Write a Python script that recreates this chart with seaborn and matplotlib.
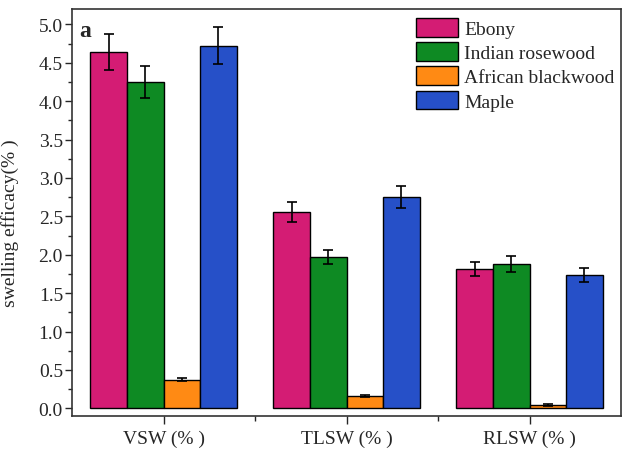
import pandas as pd
import matplotlib.pyplot as plt
import seaborn as sns
from matplotlib.ticker import MultipleLocator, FixedLocator

# Data
categories = ['VSW (% )', 'TLSW (% )', 'RLSW (% )']
species = ['Ebony', 'Indian rosewood', 'African blackwood', 'Maple']
ebony = [4.64, 2.56, 1.81]
rosewood = [4.25, 1.97, 1.88]
blackwood = [0.37, 0.16, 0.04]
maple = [4.72, 2.75, 1.74]
ebony_err = [0.23, 0.13, 0.09]
rosewood_err = [0.21, 0.09, 0.10]
blackwood_err = [0.02, 0.01, 0.01]
maple_err = [0.24, 0.14, 0.09]

colors = ['#D41C74', '#0E8A23', '#FF8A14', '#2650C8']

values = [ebony, rosewood, blackwood, maple]
errors = [ebony_err, rosewood_err, blackwood_err, maple_err]
rows = []
for sp, vals, errs in zip(species, values, errors):
    for cat, v, e in zip(categories, vals, errs):
        rows.append({'category': cat, 'species': sp, 'value': v, 'err': e})
df = pd.DataFrame(rows)

sns.set_style('ticks')
plt.rcParams['font.family'] = ['Liberation Serif', 'DejaVu Serif']

fig = plt.figure(figsize=(6.22, 4.52), dpi=100)
ax = fig.add_axes([0.1158, 0.0774, 0.8826, 0.9005])

sns.barplot(data=df, x='category', y='value', hue='species', order=categories,
            hue_order=species, palette=colors, edgecolor='black', linewidth=1.0,
            saturation=1, width=0.8, errorbar=None, ax=ax)

# error bars at bar centers
for container, sp in zip(ax.containers, species):
    sub = df[df['species'] == sp].set_index('category').loc[categories]
    xs = [p.get_x() + p.get_width() / 2 for p in container.patches]
    ax.errorbar(xs, sub['value'], yerr=sub['err'], fmt='none', ecolor='black',
                elinewidth=1.2, capsize=3.5, capthick=1.2)

ax.set_xlim(-0.5, 2.5)
ax.set_ylim(-0.1, 5.2)
ax.yaxis.set_major_locator(MultipleLocator(0.5))
ax.yaxis.set_minor_locator(MultipleLocator(0.25))
ax.yaxis.set_major_formatter(plt.FormatStrFormatter('%.1f'))
ax.xaxis.set_minor_locator(FixedLocator([0.5, 1.5]))
ax.tick_params(axis='y', which='major', length=5, width=1, labelsize=14, direction='out', pad=1.5)
ax.tick_params(axis='y', which='minor', length=3, width=1, direction='out')
ax.tick_params(axis='x', which='major', length=6, width=1, labelsize=14, direction='out', pad=4)
ax.tick_params(axis='x', which='minor', length=3.5, width=1, direction='out')
for s in ax.spines.values():
    s.set_linewidth(1.2)
    s.set_color('#333333')

ax.set_xlabel('')
ax.set_ylabel('swelling efficacy(% )', fontsize=14)
ax.yaxis.set_label_coords(-0.097, 0.475)
ax.text(0.014, 0.947, 'a', transform=ax.transAxes, fontsize=17, fontweight='bold',
        va='center', ha='left')

ax.legend(loc='upper left', bbox_to_anchor=(0.626, 0.978), frameon=False,
          fontsize=14, handlelength=2.2, handleheight=1.1, labelspacing=0.22,
          handletextpad=0.3, borderpad=0, borderaxespad=0)

fig.savefig('out.png', dpi=100)
